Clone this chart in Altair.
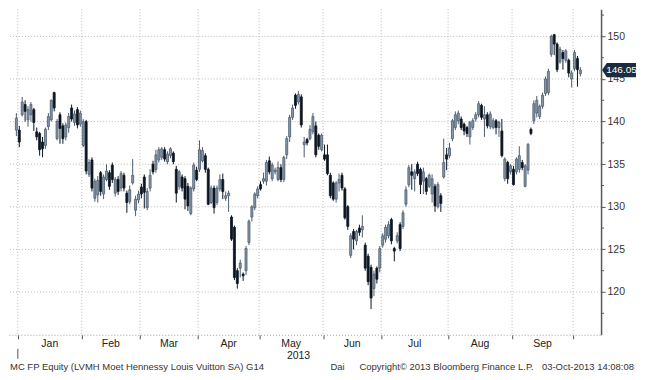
import altair as alt
import pandas as pd

# ---- daily OHLC, 31-Dec-2012 .. 03-Oct-2013 ----
opens = [139.0,
 139.0,140.8,142.0,140.2,140.8,141.4,138.8,138.6,137.6,137.2,139.4,140.2,143.4,138.0,140.8,139.5,138.2,139.3,141.6,139.9,141.4,139.7,
 137.2,140.0,133.8,135.5,131.0,131.4,134.0,131.5,133.2,134.0,134.9,131.6,133.2,132.2,133.7,131.6,130.6,132.8,129.6,130.8,
 132.3,133.5,129.9,132.2,135.0,134.4,135.5,135.8,136.7,135.3,136.0,136.3,134.4,132.4,133.5,133.3,132.4,129.2,132.1,134.3,
 134.4,135.4,136.0,134.4,130.5,132.2,130.5,132.1,133.2,131.0,131.3,128.8,127.6,122.5,122.8,122.1,122.5,125.8,128.8,129.9,131.3,
 132.6,133.0,133.0,135.4,133.3,134.1,133.2,134.6,133.2,136.1,138.2,140.5,143.1,142.3,142.9,137.3,137.9,138.0,138.8,139.5,138.4,136.7,
 136.1,136.1,133.7,132.8,130.9,132.8,133.7,132.1,130.0,124.3,127.1,126.0,127.5,127.3,125.5,124.2,122.9,120.4,122.8,122.8,
 125.5,126.2,126.6,128.5,125.1,126.0,127.9,127.7,130.3,132.6,134.1,133.3,135.0,134.4,133.0,133.3,132.4,131.5,132.4,130.0,131.3,133.5,136.1,
 136.0,138.0,139.3,140.1,140.3,139.7,139.3,138.2,139.3,140.3,140.8,141.9,140.3,140.8,139.4,139.3,140.1,139.3,138.9,133.3,135.2,134.1,
 134.4,134.1,134.4,135.2,132.4,134.3,139.1,140.1,141.0,140.6,141.8,143.3,143.4,147.9,150.2,149.1,147.0,148.1,147.2,147.2,145.0,
 146.2,147.4,145.6]
closes = [140.4,
 137.6,142.3,141.2,141.4,142.0,139.9,138.2,136.7,136.8,139.1,140.6,142.5,141.6,140.0,139.2,138.0,139.6,140.6,140.3,140.9,139.6,141.0,
 140.0,134.2,135.2,132.2,133.0,133.1,131.8,133.5,134.2,132.4,133.2,133.2,131.8,133.9,132.2,130.5,132.0,133.7,130.9,131.5,
 131.5,131.7,131.8,133.7,134.1,136.1,136.7,136.8,135.6,136.2,136.8,135.3,131.6,134.1,132.2,130.9,130.1,132.2,134.9,133.2,
 136.7,136.6,134.4,130.3,132.2,129.9,132.2,133.2,131.8,131.3,131.6,126.2,121.7,121.0,123.4,121.9,125.1,128.3,130.0,131.5,132.1,
 132.1,133.3,135.2,134.1,134.9,134.3,134.6,133.2,135.8,138.0,140.5,141.6,141.9,143.2,139.6,137.6,137.5,139.1,140.6,136.1,137.1,138.4,
 135.6,133.9,131.3,130.9,132.8,133.2,132.2,128.7,127.7,126.6,126.2,127.1,127.0,127.7,122.8,121.2,119.3,122.1,121.5,125.1,
 126.6,127.6,127.9,126.0,124.8,126.6,125.1,129.3,132.0,134.6,133.7,134.1,133.9,132.6,134.1,131.8,133.7,133.3,130.1,132.6,130.4,135.2,135.6,
 136.9,140.1,140.8,141.0,139.3,138.9,138.6,139.9,140.1,140.8,142.1,140.5,140.8,139.5,140.9,140.1,139.3,139.9,136.0,135.6,133.3,134.8,
 132.6,135.6,136.0,134.6,134.8,137.3,138.6,142.1,142.5,141.8,143.1,145.0,145.9,150.0,149.1,146.1,148.5,147.4,148.3,145.7,145.7,
 148.1,146.1,146.05]
highs = [141.0,
 139.5,142.9,142.5,141.8,142.3,141.6,139.3,138.8,138.2,139.3,141.0,142.6,143.5,140.3,141.1,139.8,139.9,141.0,142.0,141.3,141.7,141.3,
 140.3,140.2,135.6,135.8,133.3,133.6,134.2,133.8,135.0,134.3,135.2,133.5,133.6,134.2,134.0,131.9,132.5,135.6,131.3,131.9,
 132.7,133.8,132.2,134.4,135.4,136.7,137.0,137.0,137.0,136.5,137.0,136.5,134.8,134.3,133.8,133.6,132.8,132.4,135.2,134.7,
 137.8,137.0,136.3,134.6,132.5,132.5,132.5,133.8,133.9,131.8,131.9,129.0,127.8,122.8,123.8,122.3,125.4,128.5,130.2,131.7,132.4,
 133.0,134.0,135.5,135.9,135.2,134.6,135.3,135.0,136.0,138.3,140.8,142.0,143.3,143.6,143.2,138.2,138.1,139.6,141.0,140.0,138.6,138.6,
 137.3,137.3,134.0,133.0,133.0,133.9,134.0,132.3,130.2,126.9,127.4,127.3,127.9,129.0,125.8,124.5,123.2,122.5,123.0,125.4,
 126.9,127.9,128.3,128.7,125.3,127.0,128.2,129.6,132.4,134.9,135.0,134.4,135.3,134.6,134.6,133.5,133.9,133.8,132.7,132.9,131.6,138.0,136.9,
 137.5,140.3,141.2,141.3,140.6,139.9,139.5,140.1,140.4,141.1,142.4,142.1,141.8,141.1,141.2,140.4,140.3,140.1,140.3,135.8,135.4,135.0,
 134.8,135.8,137.1,135.5,135.0,137.5,139.3,142.5,143.0,142.0,143.4,145.3,146.2,150.2,150.3,149.3,148.8,148.4,148.5,147.4,146.0,
 148.4,147.7,146.4]
lows = [138.3,
 137.0,140.6,140.0,139.4,140.0,138.9,137.8,136.0,135.8,136.8,139.0,140.0,141.2,137.8,137.4,137.4,137.8,138.7,140.0,139.5,139.2,139.4,
 137.0,133.8,133.5,131.8,130.6,130.5,131.3,130.9,133.0,132.0,132.8,131.2,131.4,131.8,131.8,129.3,130.3,132.6,128.9,130.4,
 131.0,129.8,129.6,131.8,133.8,134.0,135.2,135.5,135.3,135.0,135.7,135.0,130.5,132.0,131.8,129.7,129.5,129.0,131.8,133.0,
 134.1,135.2,134.0,130.2,130.3,129.2,130.2,131.8,130.9,130.7,129.4,126.0,121.4,120.4,121.7,121.3,122.0,125.5,128.3,129.6,131.0,
 131.9,132.7,132.5,133.8,133.0,133.8,133.0,132.9,132.9,135.6,137.6,140.2,141.5,142.0,139.3,135.8,137.2,137.8,138.5,135.8,136.7,136.5,
 135.4,133.7,131.0,130.7,130.5,131.8,131.9,128.5,127.3,124.0,125.0,125.5,126.6,126.4,122.5,120.8,118.0,119.5,121.0,122.3,
 125.2,125.8,126.3,125.6,123.6,125.7,124.8,127.4,130.0,132.3,132.0,131.8,133.6,131.5,131.5,131.4,132.2,130.5,129.4,129.8,129.4,133.3,134.3,
 135.7,137.7,139.0,139.7,139.0,138.4,138.2,137.3,139.0,140.0,140.5,140.2,138.2,139.2,139.1,139.1,138.5,138.2,135.8,133.0,132.7,133.8,
 132.5,133.8,134.0,134.3,132.3,133.8,138.4,139.7,140.5,140.3,141.5,143.0,143.1,147.6,147.8,145.8,146.8,146.1,146.9,145.2,144.0,
 145.9,144.1,145.3]

month_names = ["Jan", "Feb", "Mar", "Apr", "May", "Jun", "Jul", "Aug", "Sep"]
month_bounds = [0.5, 22.5, 42.5, 62.5, 83.5, 105.5, 125.5, 148.5, 170.5, 191.5]
y_major = [120, 125, 130, 135, 140, 145, 150]
y_minor = [117.5, 122.5, 127.5, 132.5, 137.5, 142.5, 147.5, 152.5]
year_label = "2013"
last_label = "146.05"
footer_left = "MC FP Equity (LVMH Moet Hennessy Louis Vuitton SA) G14"
footer_mid = "Dai"
footer_copy = "Copyright\u00a9 2013 Bloomberg Finance L.P."
footer_date = "03-Oct-2013 14:08:08"

W, H = 593, 326
FONT = "Liberation Sans"

df = pd.DataFrame({"i": range(len(closes)), "open": opens, "close": closes,
                   "high": highs, "low": lows})
df["dir"] = ["up" if c >= o else "down" for o, c in zip(opens, closes)]

xs = alt.Scale(domain=[-0.82, 199.4], nice=False, zero=False)
ys = alt.Scale(domain=[114.98, 153.18], nice=False, zero=False)

grid_color = "#b9b9b9"

hgrid = alt.Chart(pd.DataFrame({"v": y_major})).mark_rule(
    color=grid_color, strokeDash=[1, 2], strokeWidth=1
).encode(
    y=alt.Y("v:Q", scale=ys, axis=alt.Axis(
        orient="right", values=y_major, grid=False, title=None,
        domainColor="#5a5a5a", domainWidth=1.5, tickColor="#5a5a5a", tickSize=4,
        labelPadding=2, labelFont=FONT, labelFontSize=10.5, labelColor="#333333"))
)

vgrid = alt.Chart(pd.DataFrame({"b": month_bounds})).mark_rule(
    color=grid_color, strokeDash=[1, 2], strokeWidth=1
).encode(
    x=alt.X("b:Q", scale=xs, axis=alt.Axis(
        orient="bottom", values=month_bounds, labels=False, grid=False, title=None,
        domainColor="#a0a0a0", domainDash=[1, 2], tickColor="#555555", tickSize=4))
)

minor = alt.Chart(pd.DataFrame({"v": y_minor})).mark_rule(
    color="#5a5a5a", strokeWidth=1
).encode(y=alt.Y("v:Q", scale=ys), x=alt.value(W), x2=alt.value(W + 3))

col_scale = alt.Scale(domain=["up", "down"], range=["#4d5d70", "#0c1622"])
fill_scale = alt.Scale(domain=["up", "down"], range=["#8898ab", "#0c1622"])

wicks = alt.Chart(df).mark_rule(strokeWidth=1).encode(
    x=alt.X("i:Q", scale=xs),
    y=alt.Y("low:Q", scale=ys),
    y2="high:Q",
    color=alt.Color("dir:N", scale=col_scale, legend=None),
)

bodies = alt.Chart(df).mark_bar(size=2, strokeWidth=0.8).encode(
    x=alt.X("i:Q", scale=xs),
    y=alt.Y("open:Q", scale=ys),
    y2="close:Q",
    fill=alt.Fill("dir:N", scale=fill_scale, legend=None),
    stroke=alt.Stroke("dir:N", scale=col_scale, legend=None),
)

mids = [(month_bounds[k] + month_bounds[k + 1]) / 2 for k in range(len(month_names))]
mlabels = alt.Chart(pd.DataFrame({"m": mids, "t": month_names})).mark_text(
    font=FONT, fontSize=10.5, color="#222222", baseline="middle", align="center"
).encode(x=alt.X("m:Q", scale=xs), y=alt.value(H + 9), text="t:N")

yearmark = alt.Chart(pd.DataFrame({"b": [month_bounds[0]]})).mark_rule(
    color="#555555", strokeWidth=1
).encode(x=alt.X("b:Q", scale=xs), y=alt.value(H + 14), y2=alt.value(H + 24))

yeartext = alt.Chart(pd.DataFrame({"t": [year_label]})).mark_text(
    font=FONT, fontSize=10.5, color="#222222", baseline="middle", align="center"
).encode(x=alt.value(290), y=alt.value(H + 21), text="t:N")

foot = alt.Chart(pd.DataFrame({
    "t": [footer_left, footer_mid, footer_copy],
    "x": [1, 322, 351],
})).mark_text(font=FONT, fontSize=9.5, color="#333333", baseline="bottom", align="left").encode(
    x=alt.X("x:Q", scale=None), y=alt.value(H + 37), text="t:N")

foot_r = alt.Chart(pd.DataFrame({"t": [footer_date]})).mark_text(
    font=FONT, fontSize=9.5, color="#333333", baseline="bottom", align="right"
).encode(x=alt.value(626), y=alt.value(H + 37), text="t:N")

last_df = pd.DataFrame({"v": [closes[-1]], "t": [last_label]})
tag = alt.Chart(last_df).mark_point(
    shape="M -1 0 L -0.72 -0.42 L 1 -0.42 L 1 0.42 L -0.72 0.42 Z",
    filled=True, opacity=1, color="#1b2c3e", size=1156, strokeWidth=0
).encode(x=alt.value(W + 18), y=alt.Y("v:Q", scale=ys))
tagtext = alt.Chart(last_df).mark_text(
    font=FONT, fontSize=10, color="white", align="center", baseline="middle"
).encode(x=alt.value(W + 20.5), y=alt.Y("v:Q", scale=ys), text="t:N")

chart = alt.layer(
    hgrid, vgrid, minor, wicks, bodies, mlabels, yearmark, yeartext, foot, foot_r, tag, tagtext
).properties(width=W, height=H, padding=0, background="white").configure_view(stroke=None)

chart.save("out.html", embed_options={"renderer": "svg", "actions": False})
